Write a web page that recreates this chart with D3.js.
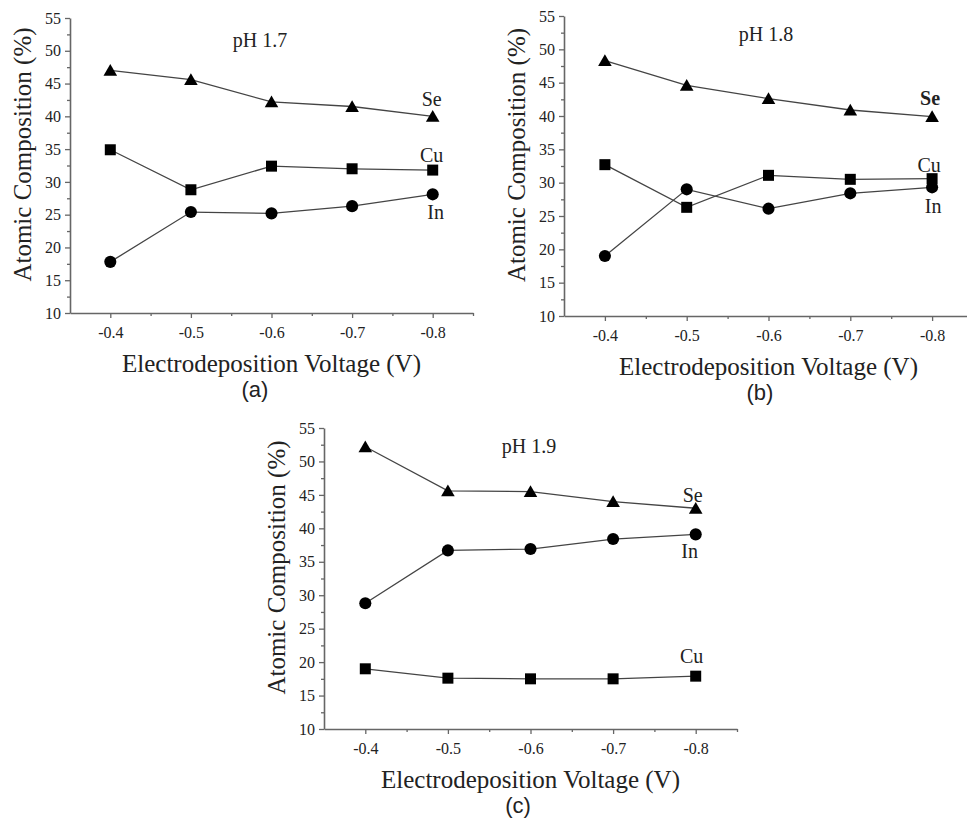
<!DOCTYPE html>
<html>
<head>
<meta charset="utf-8">
<script src="https://cdn.jsdelivr.net/npm/d3@7"></script>
<style>
  body { margin: 0; background: #fff; }
  svg { display: block; }
</style>
</head>
<body>
<div id="chart"></div>
<script>
// voltages on the x axis
const voltages = [-0.4, -0.5, -0.6, -0.7, -0.8];
const xTicks = [-0.4, -0.5, -0.6, -0.7, -0.8];
const yTicks = [10, 15, 20, 25, 30, 35, 40, 45, 50, 55];

// pH 1.7
const se17 = [47.0, 45.6, 42.2, 41.5, 40.0];
const cu17 = [34.9, 28.8, 32.4, 32.0, 31.8];
const in17 = [17.8, 25.4, 25.2, 26.3, 28.1];

// pH 1.8
const se18 = [48.3, 44.6, 42.6, 40.9, 39.9];
const cu18 = [32.7, 26.3, 31.1, 30.5, 30.6];
const in18 = [19.0, 29.0, 26.1, 28.4, 29.3];

// pH 1.9
const se19 = [52.2, 45.6, 45.5, 44.0, 43.0];
const cu19 = [19.0, 17.6, 17.5, 17.5, 17.9];
const in19 = [28.8, 36.7, 36.9, 38.4, 39.1];

const panelTitles = ["pH 1.7", "pH 1.8", "pH 1.9"];
const panelLetters = ["(a)", "(b)", "(c)"];

const W = 967, H = 825;
const svg = d3.select("#chart").append("svg")
    .attr("width", W)
    .attr("height", H);

// layout of the three panels (plot box in px)
const panels = [
    {left: 70, right: 473, top: 18, bottom: 313, pHx: 260, pHdy: 29, letterX: 255,
     series: [se17, cu17, in17], lab: [[-1, -10], [-1, -8], [3, 25]], boldSe: false},
    {left: 564, right: 973, top: 16, bottom: 316, pHx: 766, pHdy: 25, letterX: 760,
     series: [se18, cu18, in18], lab: [[-2, -12], [-3, -7], [1, 26]], boldSe: true},
    {left: 324, right: 737, top: 428, bottom: 729, pHx: 529, pHdy: 25, letterX: 518,
     series: [se19, cu19, in19], lab: [[-3, -6], [-4, -13], [-6, 24]], boldSe: false}
];

const names = ["Se", "Cu", "In"];
const symbols = [d3.symbolTriangle, d3.symbolSquare, d3.symbolCircle];
const symSize = [80, 121, 115];

const serif = "'Liberation Serif', 'Times New Roman', serif";
const axisColor = "#666";
const textColor = "#222";

panels.forEach(function(p, pi) {
    const g = svg.append("g");

    const x = d3.scaleLinear().domain([-0.35, -0.85]).range([p.left, p.right]);
    const y = d3.scaleLinear().domain([10, 55]).range([p.bottom, p.top]);

    // minor ticks
    const yMinor = d3.range(12.5, 55, 5);
    const xMinor = [-0.45, -0.55, -0.65, -0.75, -0.85];

    g.append("g")
        .attr("transform", "translate(" + p.left + ",0)")
        .call(d3.axisLeft(y).tickValues(yMinor).tickSize(3).tickFormat(""))
        .call(a => a.select(".domain").remove())
        .call(a => a.selectAll("line").attr("stroke", axisColor).attr("stroke-width", 1.3));

    g.append("g")
        .attr("transform", "translate(0," + p.bottom + ")")
        .call(d3.axisBottom(x).tickValues(xMinor.filter(v => x(v) <= p.right)).tickSize(3).tickFormat(""))
        .call(a => a.select(".domain").remove())
        .call(a => a.selectAll("line").attr("stroke", axisColor).attr("stroke-width", 1.3));

    // major axes
    const yAxis = g.append("g")
        .attr("transform", "translate(" + p.left + ",0)")
        .call(d3.axisLeft(y).tickValues(yTicks).tickSize(5).tickSizeOuter(0).tickPadding(4));
    const xAxis = g.append("g")
        .attr("transform", "translate(0," + p.bottom + ")")
        .call(d3.axisBottom(x).tickValues(xTicks).tickSize(5).tickSizeOuter(0).tickPadding(9)
            .tickFormat(d3.format(".1f")));

    [yAxis, xAxis].forEach(function(a) {
        a.attr("font-family", serif).attr("font-size", 16);
        a.select(".domain").attr("stroke", axisColor).attr("stroke-width", 1.6);
        a.selectAll(".tick line").attr("stroke", axisColor).attr("stroke-width", 1.3);
        a.selectAll(".tick text").attr("fill", textColor);
    });
    xAxis.selectAll(".tick text").text(d => d3.format(".1f")(d).replace("−", "-"));

    // axis titles
    g.append("text")
        .attr("x", (p.left + p.right) / 2)
        .attr("y", p.bottom + 59)
        .attr("text-anchor", "middle")
        .attr("font-family", serif)
        .attr("font-size", 25)
        .attr("fill", textColor)
        .text("Electrodeposition Voltage (V)");

    g.append("text")
        .attr("transform", "translate(" + (p.left - 48) + "," + ((p.top + p.bottom) / 2 - 11) + ") rotate(-90)")
        .attr("text-anchor", "middle")
        .attr("dy", "0.35em")
        .attr("font-family", serif)
        .attr("font-size", 25)
        .attr("fill", textColor)
        .text("Atomic Composition (%)");

    // pH label
    g.append("text")
        .attr("x", p.pHx)
        .attr("y", p.top + p.pHdy)
        .attr("text-anchor", "middle")
        .attr("font-family", serif)
        .attr("font-size", 20)
        .attr("fill", textColor)
        .text(panelTitles[pi]);

    // panel letter
    g.append("text")
        .attr("x", p.letterX)
        .attr("y", p.bottom + 84)
        .attr("text-anchor", "middle")
        .attr("font-family", "'Liberation Sans', Arial, sans-serif")
        .attr("font-size", 22)
        .attr("fill", textColor)
        .text(panelLetters[pi]);

    const line = d3.line()
        .x((d, i) => x(voltages[i]))
        .y(d => y(d));

    p.series.forEach(function(vals, si) {
        g.append("path")
            .datum(vals)
            .attr("d", line)
            .attr("fill", "none")
            .attr("stroke", "#444")
            .attr("stroke-width", 1.3);

        g.selectAll(null)
            .data(vals)
            .enter()
            .append("path")
            .attr("transform", (d, i) => "translate(" + x(voltages[i]) + "," + (y(d) + (si === 0 ? 1.5 : 0)) + ")")
            .attr("d", d3.symbol().type(symbols[si]).size(symSize[si]))
            .attr("fill", "#000");

        const last = vals[vals.length - 1];
        g.append("text")
            .attr("x", x(voltages[voltages.length - 1]) + p.lab[si][0])
            .attr("y", y(last) + p.lab[si][1])
            .attr("text-anchor", "middle")
            .attr("font-family", serif)
            .attr("font-size", 20)
            .attr("font-weight", (si === 0 && p.boldSe) ? "bold" : "normal")
            .attr("fill", textColor)
            .text(names[si]);
    });
});
</script>
</body>
</html>
